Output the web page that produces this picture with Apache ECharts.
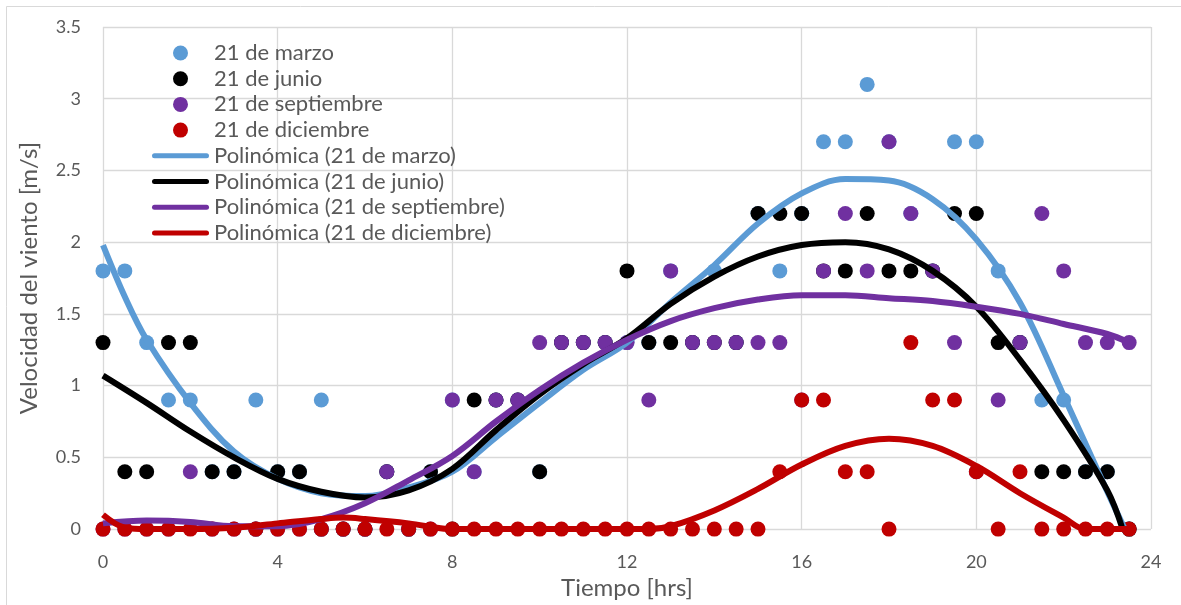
<!DOCTYPE html>
<html>
<head>
<meta charset="utf-8">
<script src="https://cdn.jsdelivr.net/npm/echarts@6/dist/echarts.min.js"></script>
<style>
html,body{margin:0;padding:0;background:#fff;}
#chart{width:1181px;height:605px;}
</style>
</head>
<body>
<div id="chart"></div>
<script>
// Hours (half-hour samples)
const hours = [0,0.5,1,1.5,2,2.5,3,3.5,4,4.5,5,5.5,6,6.5,7,7.5,8,8.5,9,9.5,10,10.5,11,11.5,12,12.5,13,13.5,14,14.5,15,15.5,16,16.5,17,17.5,18,18.5,19,19.5,20,20.5,21,21.5,22,22.5,23,23.5];

// Wind speed [m/s]
const marzo = [1.8,1.8,1.3,0.9,0.9,0.4,0.4,0.9,0.4,0.4,0.9,0,0,0.4,0,0.4,0.9,0.4,0.9,0.9,0.4,1.3,1.3,1.3,1.3,1.3,1.8,1.3,1.8,1.3,2.2,1.8,2.2,2.7,2.7,3.1,2.7,2.2,1.8,2.7,2.7,1.8,1.3,0.9,0.9,0.4,0.4,0];
const junio = [1.3,0.4,0.4,1.3,1.3,0.4,0.4,0,0.4,0.4,0,0,0,0.4,0,0.4,0,0.9,0.9,0.9,0.4,1.3,1.3,1.3,1.8,1.3,1.3,1.3,1.3,1.3,2.2,2.2,2.2,1.8,1.8,2.2,1.8,1.8,1.8,2.2,2.2,1.3,1.3,0.4,0.4,0.4,0.4,0];
const septiembre = [0,0,0,0,0.4,0,0,0,0,0,0,0,0,0.4,0,0,0.9,0.4,0.9,0.9,1.3,1.3,1.3,1.3,1.3,0.9,1.8,1.3,1.3,1.3,1.3,1.3,0.9,1.8,2.2,1.8,2.7,2.2,1.8,1.3,0.4,0.9,1.3,2.2,1.8,1.3,1.3,1.3];
const diciembre = [0,0,0,0,0,0,0,0,0,0,0,0,0,0,0,0,0,0,0,0,0,0,0,0,0,0,0,0,0,0,0,0.4,0.9,0.9,0.4,0.4,0,1.3,0.9,0.9,0.4,0,0.4,0,0,0,0,0];

// Polynomial trend lines
const trendHoursMarzo = [0,0.5,1,2,3,4,5,6,7,8,9,10,11,12,13,14,15,16,17,18,19,20,21,22,23,23.4];
const trendMarzo      = [1.98,1.62,1.32,0.88,0.54,0.35,0.25,0.23,0.29,0.4,0.64,0.88,1.11,1.3,1.58,1.84,2.13,2.34,2.44,2.43,2.3,2.02,1.58,0.93,0.26,0];
const trendHoursJunio = [0,1,2,3,4,5,6,7,8,9,10,11,12,13,14,15,16,17,18,19,20,21,22,23,23.35];
const trendJunio      = [1.07,0.88,0.68,0.5,0.35,0.26,0.22,0.27,0.42,0.69,0.94,1.15,1.33,1.57,1.76,1.9,1.98,2.0,1.95,1.8,1.55,1.18,0.76,0.27,0];
const trendHoursSept  = [0,1,2,3,4,5,6,7,8,9,10,11,12,13,14,15,16,17,18,19,20,21,22,23,23.5];
const trendSept       = [0.04,0.06,0.05,0.02,0.02,0.07,0.18,0.34,0.51,0.75,0.97,1.16,1.32,1.45,1.54,1.6,1.63,1.63,1.61,1.59,1.55,1.5,1.43,1.36,1.3];
const trendHoursDic   = [0,0.5,1,2,3,4,5,5.5,6,7,8,9,10,11,12,12.5,13,14,15,16,17,18,19,20,21,22,22.5,23,23.5];
const trendDic        = [0.1,0.01,0,0,0.01,0.04,0.07,0.08,0.07,0.04,0,0,0,0,0,0,0.02,0.13,0.28,0.45,0.58,0.63,0.58,0.44,0.25,0.08,0,0,0];

const xTicks = [0,4,8,12,16,20,24];
const yTicks = [0,0.5,1,1.5,2,2.5,3,3.5];

const names = ['21 de marzo','21 de junio','21 de septiembre','21 de diciembre'];
const trendNames = ['Polinómica (21 de marzo)','Polinómica (21 de junio)','Polinómica (21 de septiembre)','Polinómica (21 de diciembre)'];
const colors = ['#5B9BD5','#000000','#7030A0','#C00000'];

const FONT = 'Lato, "Open Sans", sans-serif';
const LINE_W = 6;
const pts = (xs, ys) => xs.map((x, i) => [x, ys[i]]);

const scatterData = [marzo, junio, septiembre, diciembre];
const trendData = [
  pts(trendHoursMarzo, trendMarzo),
  pts(trendHoursJunio, trendJunio),
  pts(trendHoursSept, trendSept),
  pts(trendHoursDic, trendDic)
];

const series = [];
scatterData.forEach((arr, k) => {
  series.push({
    name: names[k], type: 'scatter', symbol: 'circle', symbolSize: 15,
    itemStyle: {color: colors[k], opacity: 1},
    data: pts(hours, arr), z: 2
  });
});
trendData.forEach((d, k) => {
  series.push({
    name: trendNames[k], type: 'line', symbol: 'none', showSymbol: false, smooth: 0.35,
    color: colors[k],
    lineStyle: {color: colors[k], width: LINE_W},
    data: d, z: 3
  });
});

// Legend icon for trend lines: thick bar with rounded ends
const BAR_ICON = 'path://M2.5,0 L54.5,0 A2.5,2.5 0 0 1 54.5,5 L2.5,5 A2.5,2.5 0 0 1 2.5,0 Z';
const legendData = names.map(n => ({name: n, icon: 'circle'}))
  .concat(trendNames.map(n => ({name: n, icon: BAR_ICON})));

const chart = echarts.init(document.getElementById('chart'), null, {renderer: 'canvas'});
chart.setOption({
  animation: false,
  backgroundColor: '#ffffff',
  textStyle: {fontFamily: FONT},
  grid: {left: 103, right: 30, top: 27, bottom: 75, containLabel: false},
  graphic: [{
    type: 'rect', silent: true, z: -1,
    shape: {x: 6.5, y: 6.5, width: 1180, height: 610},
    style: {fill: null, stroke: '#D9D9D9', lineWidth: 1}
  }],
  legend: {
    orient: 'vertical', left: 152, top: 42, padding: 0,
    itemWidth: 57, itemHeight: 15, itemGap: 3.7,
    textStyle: {color: '#595959', fontSize: 22, fontFamily: FONT, lineHeight: 22},
    data: legendData
  },
  xAxis: {
    type: 'value', min: xTicks[0], max: xTicks[xTicks.length - 1], interval: 4,
    name: 'Tiempo [hrs]', nameLocation: 'middle', nameGap: 42,
    nameTextStyle: {color: '#595959', fontSize: 24, fontFamily: FONT},
    axisLine: {show: false}, axisTick: {show: false},
    axisLabel: {color: '#595959', fontSize: 18, fontFamily: FONT, margin: 24},
    splitLine: {show: true, lineStyle: {color: '#D9D9D9', width: 1.3}}
  },
  yAxis: {
    type: 'value', min: yTicks[0], max: yTicks[yTicks.length - 1], interval: 0.5,
    name: 'Velocidad del viento [m/s]', nameLocation: 'middle', nameGap: 62,
    nameTextStyle: {color: '#595959', fontSize: 24, fontFamily: FONT},
    axisLine: {show: false}, axisTick: {show: false},
    axisLabel: {color: '#595959', fontSize: 18, fontFamily: FONT, margin: 22},
    splitLine: {show: true, lineStyle: {color: '#D9D9D9', width: 1.3}}
  },
  series: series
});
</script>
</body>
</html>
